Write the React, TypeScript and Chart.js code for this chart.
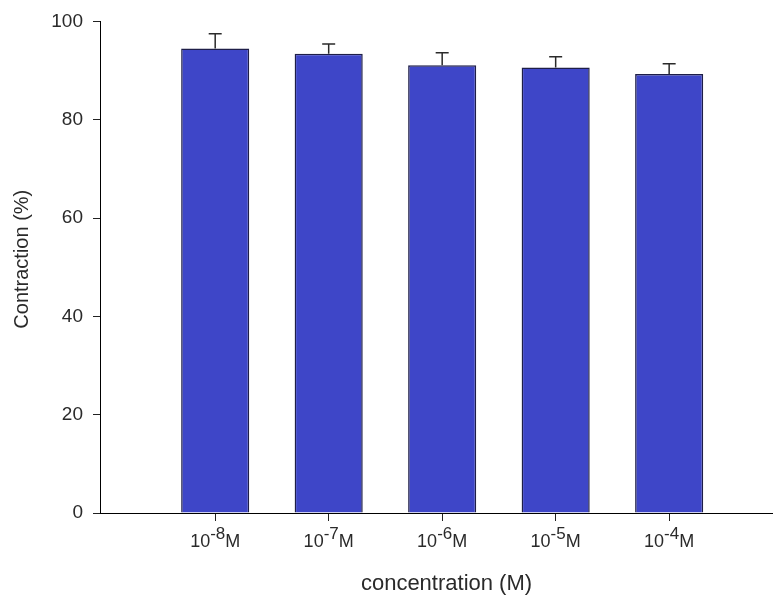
import React, { useEffect, useRef } from "react";
import { Chart, registerables } from "chart.js";

Chart.register(...registerables);

// exponents of the molar concentrations (10^x M)
const exponents = ["-8", "-7", "-6", "-5", "-4"];
const contraction = [94.5, 93.4, 91.1, 90.6, 89.3];
const errors = [3.0, 2.0, 2.5, 2.2, 2.1];
const yTickValues = [0, 20, 40, 60, 80, 100];
const xTitle = "concentration (M)";
const yTitle = "Contraction (%)";

const FONT = "'Liberation Sans', Arial, sans-serif";

const overlay = {
  id: "overlay",
  afterDatasetsDraw(chart: any) {
    const { ctx, scales, chartArea } = chart;
    const x = scales.x;
    const y = scales.y;
    ctx.save();
    // error bars (upper only)
    ctx.strokeStyle = "#2a2a2a";
    ctx.lineWidth = 1.5;
    contraction.forEach((v, i) => {
      const px = x.getPixelForValue(i + 1);
      const top = y.getPixelForValue(v);
      const cap = y.getPixelForValue(v + errors[i]);
      ctx.beginPath();
      ctx.moveTo(px, top);
      ctx.lineTo(px, cap);
      ctx.moveTo(px - 6.5, cap);
      ctx.lineTo(px + 6.5, cap);
      ctx.stroke();
    });

    // x tick labels with superscripts
    ctx.fillStyle = "#2a2a2a";
    ctx.textBaseline = "alphabetic";
    ctx.textAlign = "left";
    const base = chartArea.bottom + 34;
    exponents.forEach((e, i) => {
      const px = x.getPixelForValue(i + 1);
      ctx.font = `18px ${FONT}`;
      const w1 = ctx.measureText("10").width;
      const w3 = ctx.measureText("M").width;
      ctx.font = `17px ${FONT}`;
      const w2 = ctx.measureText(e).width;
      const total = w1 + w2 + w3;
      let sx = px - total / 2;
      ctx.font = `18px ${FONT}`;
      ctx.fillText("10", sx, base);
      sx += w1;
      ctx.font = `17px ${FONT}`;
      ctx.fillText(e, sx, base - 8);
      sx += w2;
      ctx.font = `18px ${FONT}`;
      ctx.fillText("M", sx, base);
    });

    // x title
    ctx.font = `22px ${FONT}`;
    ctx.textAlign = "center";
    ctx.fillText(xTitle, (chartArea.left + chartArea.right) / 2 + 10, chartArea.bottom + 77);

    // y title
    ctx.translate(22, (chartArea.top + chartArea.bottom) / 2 - 8);
    ctx.rotate(-Math.PI / 2);
    ctx.font = `20px ${FONT}`;
    ctx.textAlign = "center";
    ctx.textBaseline = "middle";
    ctx.fillText(yTitle, 0, 0);
    ctx.restore();
  },
};

export default function App() {
  const ref = useRef<HTMLCanvasElement | null>(null);

  useEffect(() => {
    if (!ref.current) return;
    const chart = new Chart(ref.current, {
      type: "bar",
      data: {
        datasets: [
          {
            data: contraction.map((v, i) => ({ x: i + 1, y: v })),
            backgroundColor: "#3e46c8",
            borderColor: "#1e1e48",
            borderWidth: 1.5,
            barPercentage: 0.6,
            categoryPercentage: 1.0,
          },
        ],
      },
      options: {
        animation: false,
        responsive: true,
        maintainAspectRatio: false,
        layout: { padding: { top: 21, right: 0, left: 0, bottom: 0 } },
        plugins: { legend: { display: false }, tooltip: { enabled: false } },
        scales: {
          x: {
            type: "linear",
            min: -0.015,
            max: 5.915,
            offset: false,
            grid: {
              offset: false,
              drawOnChartArea: false,
              drawTicks: true,
              tickLength: 8,
              color: "#222",
              lineWidth: 1,
            },
            border: { display: true, color: "#000", width: 1 },
            ticks: { display: false },
            afterBuildTicks: (s: any) => {
              s.ticks = exponents.map((_, i) => ({ value: i + 1 }));
            },
            afterFit: (s: any) => {
              s.height = 82;
            },
          },
          y: {
            min: 0,
            max: 100,
            afterBuildTicks: (s: any) => {
              s.ticks = yTickValues.map((v) => ({ value: v }));
            },
            ticks: {
              color: "#2a2a2a",
              padding: 10,
              font: { size: 19, family: FONT },
            },
            grid: {
              drawOnChartArea: false,
              drawTicks: true,
              tickLength: 7,
              color: "#222",
              lineWidth: 1,
            },
            border: { display: true, color: "#000", width: 1 },
            afterFit: (s: any) => {
              s.width = 100;
            },
          },
        },
      },
      plugins: [overlay],
    } as any);
    return () => chart.destroy();
  }, []);

  return (
    <div
      style={{
        position: "fixed",
        left: 0,
        top: 0,
        width: 773,
        height: 595,
        background: "#fff",
      }}
    >
      <canvas ref={ref} />
    </div>
  );
}
